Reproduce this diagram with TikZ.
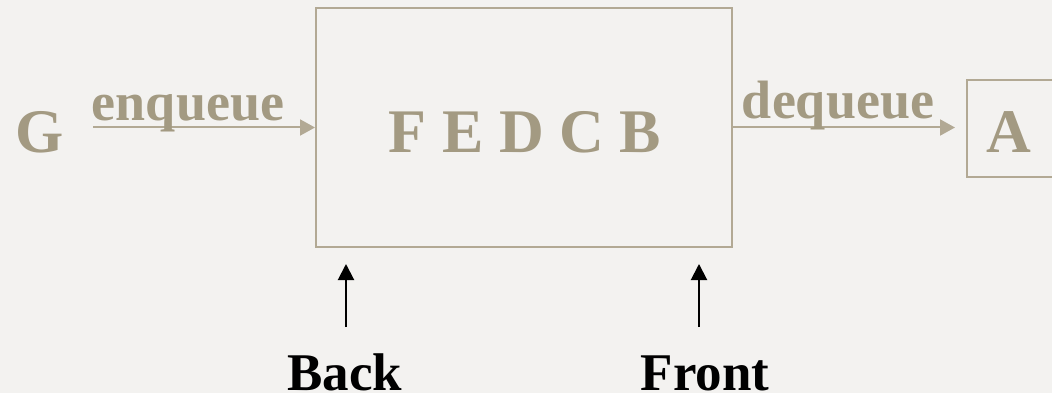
\documentclass[tikz,border=0pt]{standalone}
\usepackage{fontspec}
\setmainfont{Liberation Serif}
\usetikzlibrary{arrows.meta}
\definecolor{bgpaper}{HTML}{F3F2F0}
\definecolor{inktan}{HTML}{A39A82}
\definecolor{linetan}{HTML}{B2A994}
\tikzset{
  big/.style={font=\bfseries\fontsize{62}{62}\selectfont, text=inktan, inner sep=0pt, anchor=base},
  verb/.style={font=\bfseries\fontsize{54}{54}\selectfont, text=inktan, inner sep=0pt, anchor=base},
  tag/.style={font=\bfseries\fontsize{53}{53}\selectfont, text=black, inner sep=0pt, anchor=base},
  flow/.style={draw=linetan, line width=2pt, -{Triangle[length=15pt,width=16pt]}},
  pointer/.style={draw=black, line width=2pt, -{Triangle[length=16pt,width=16pt]}},
  frame/.style={draw=linetan, line width=2pt, inner sep=0pt}
}
\begin{document}
\begin{tikzpicture}[x=1pt, y=-1pt]
  % page area and background
  \fill[bgpaper] (0,0) rectangle (1052,393);
  \useasboundingbox (0,0) rectangle (1052,393);
  \clip (0,0) rectangle (1052,393);

  % the queue itself
  \node[frame, minimum width=416pt, minimum height=239pt] (queue) at (524,127.5) {};
  \node[big] (items) at (525,153) {F E D C B};

  % element waiting to enter
  \node[big] (g) at (40,153) {G};
  \coordinate (gout) at (93,127.5);
  \draw[flow] (gout) -- (queue.west);
  \node[verb] (enq) at (188,121) {enqueue};

  % element that has left
  \draw[frame] (967,80) rectangle (1070,177);
  \node[big] (a) at (1009,153) {A};
  \coordinate (ain) at (955,127.5);
  \draw[flow] (queue.east) -- (ain);
  \node[verb] (deq) at (838,119) {dequeue};

  % back and front markers
  \coordinate (backfoot) at (346,327);
  \coordinate (backtip) at (346,264);
  \coordinate (frontfoot) at (699,327);
  \coordinate (fronttip) at (699,264);
  \draw[pointer] (backfoot) -- (backtip);
  \draw[pointer] (frontfoot) -- (fronttip);
  \node[tag] (back) at (345,390) {Back};
  \node[tag] (front) at (705,390) {Front};
\end{tikzpicture}
\end{document}
